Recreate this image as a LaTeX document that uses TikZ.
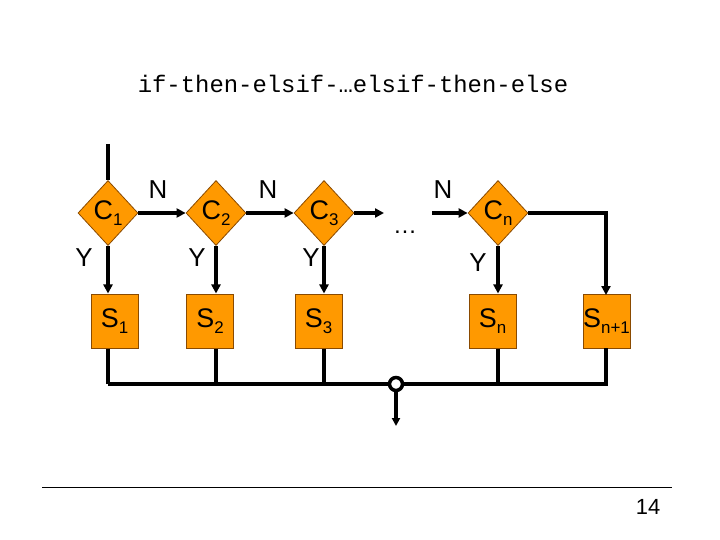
\documentclass[tikz,border=0pt]{standalone}
\usepackage{fontspec}
\setmainfont{Liberation Sans}
\newfontfamily\monof{Liberation Mono}
\usetikzlibrary{shapes.geometric,arrows.meta}
\definecolor{org}{HTML}{FF9900}
\definecolor{edg}{HTML}{8A4A00}
\newcommand{\sbs}[1]{\raisebox{-0.45ex}{\fontsize{17}{17}\selectfont #1}}
\begin{document}
\begin{tikzpicture}[x=1bp,y=-1bp,
  dia/.style={diamond,fill=org,draw=edg,line width=0.8bp,minimum width=60bp,minimum height=65bp,inner sep=0pt,font=\fontsize{27}{27}\selectfont},
  box/.style={rectangle,fill=org,draw=edg,line width=1bp,minimum width=47bp,minimum height=54bp,inner sep=0pt,font=\fontsize{27}{27}\selectfont},
  arr/.style={line width=4bp,-{Triangle[length=9bp,width=9bp]}},
  ln/.style={line width=3.5bp},
  lab/.style={font=\fontsize{26}{26}\selectfont}]
\useasboundingbox (0,0) rectangle (720,540);
\node at (353,84) {\monof\fontsize{24}{24}\selectfont if-then-elsif-…elsif-then-else};
\node[dia] (c1) at (108,213) {C\sbs{1}};
\node[dia] (c2) at (216,213) {C\sbs{2}};
\node[dia] (c3) at (324,213) {C\sbs{3}};
\node[dia] (cn) at (498,213) {C\sbs{n}};
\node[box] (s1) at (114.5,321) {S\sbs{1}};
\node[box] (s2) at (210,321) {S\sbs{2}};
\node[box] (s3) at (318.5,321) {S\sbs{3}};
\node[box] (sn) at (492.5,321) {S\sbs{n}};
\node[box] (sm) at (606.5,321) {S\sbs{n+1}};
\node (dots) at (405,232) {\fontsize{24}{24}\selectfont …};
\coordinate (start) at (108,144);
\coordinate (d1) at (384,213);
\coordinate (d2) at (432,213);
\coordinate (jn) at (396,384);
\coordinate (out) at (396,426);
\draw[line width=4bp] (start) -- (c1.north);
\draw[arr] (c1.east) -- (c2.west);
\draw[arr] (c2.east) -- (c3.west);
\draw[arr] (c3.east) -- (d1);
\draw[arr] (d2) -- (cn.west);
\draw[arr] (cn.east) -| (606,295);
\foreach \c/\s in {c1/s1,c2/s2,c3/s3,cn/sn}
  \draw[arr] (\c.south) -- (\c.south |- \s.north);
\foreach \c/\s in {c1/s1,c2/s2,c3/s3,cn/sn}
  \draw[ln] (\c.south |- \s.south) -- (\c.south |- jn);
\draw[ln] (606,348) -- (606,384) -- (108,384);
\draw[line width=3.5bp,-{Triangle[length=8bp,width=8bp]}] (jn) -- (out);
\node[circle,draw,fill=white,line width=3.5bp,minimum size=13bp,inner sep=0pt] at (jn) {};
\node[lab] at (158,190) {N};
\node[lab] at (268,190) {N};
\node[lab] at (443,190) {N};
\node[lab] at (84,258) {Y};
\node[lab] at (197,258) {Y};
\node[lab] at (311,258) {Y};
\node[lab] at (478,263) {Y};
\draw[line width=1bp] (42,487) -- (672,487);
\node at (648,507) {\fontsize{22}{22}\selectfont 14};
\end{tikzpicture}
\end{document}
